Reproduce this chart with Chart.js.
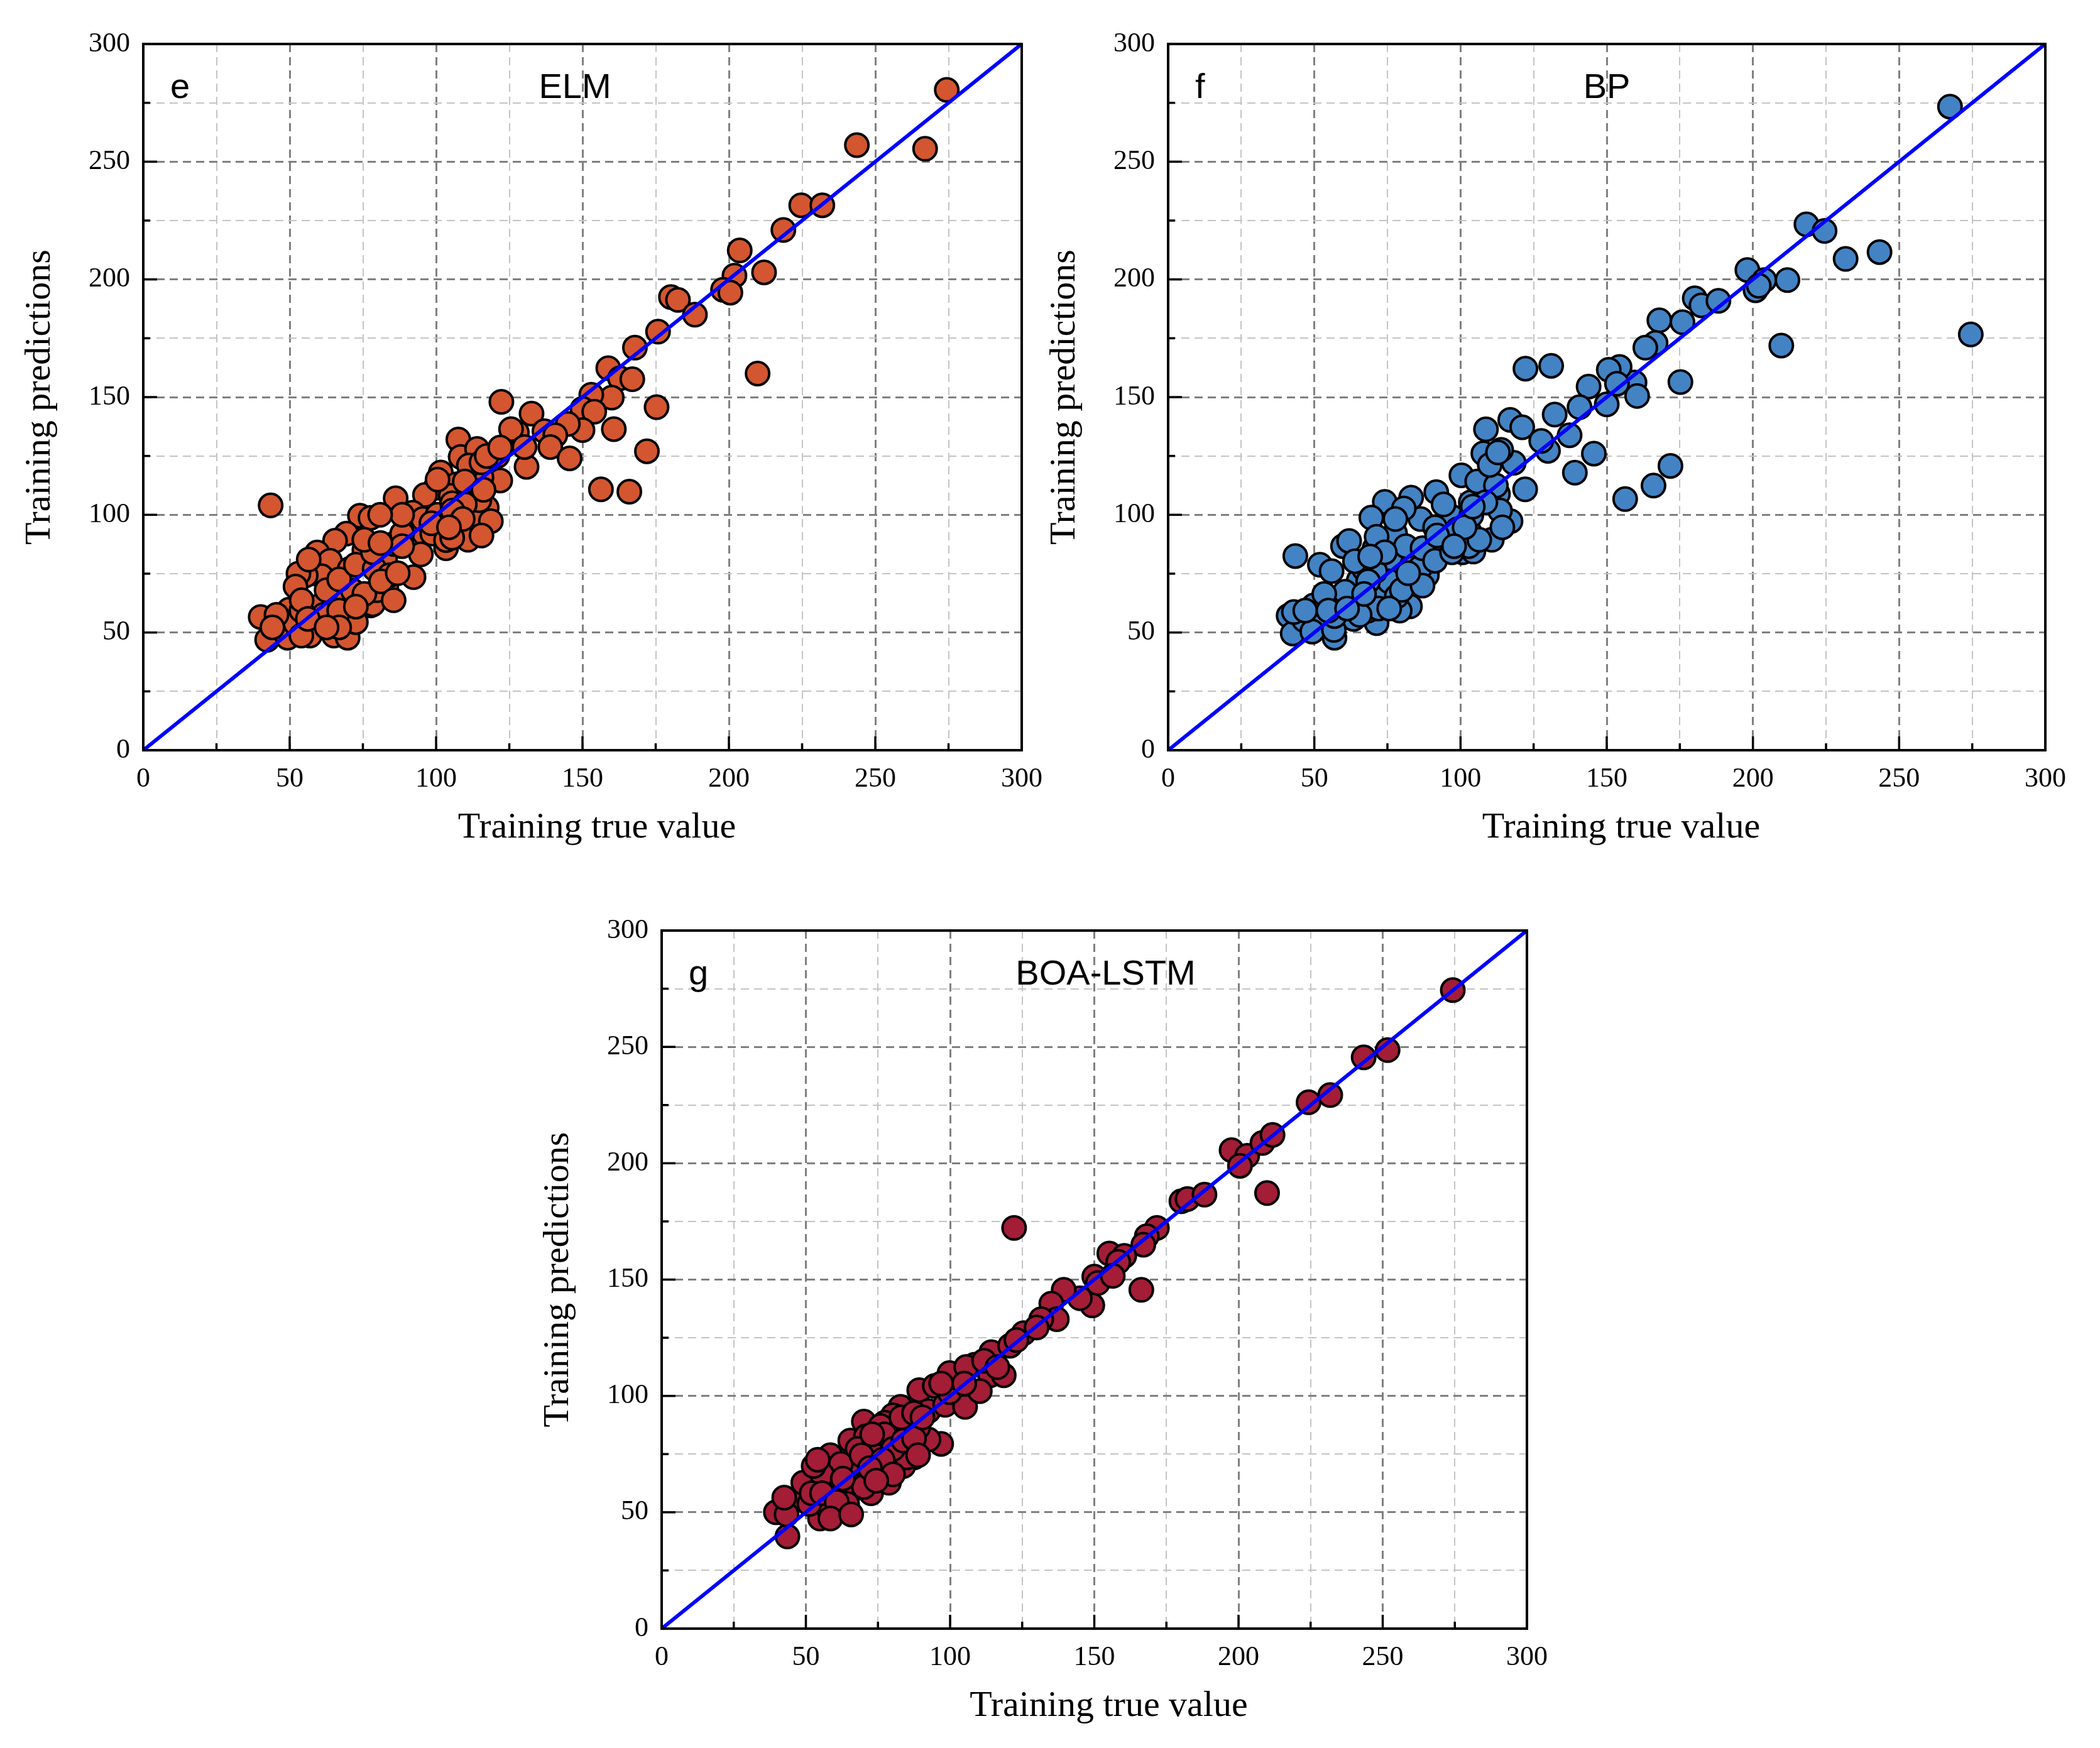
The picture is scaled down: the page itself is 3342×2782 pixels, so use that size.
<!DOCTYPE html>
<html>
<head>
<meta charset="utf-8">
<script src="https://cdn.jsdelivr.net/npm/chart.js@4.4.1/dist/chart.umd.min.js"></script>
<style>
  html, body { margin: 0; padding: 0; background: #fff; overflow: hidden; }
  body { width: 3342px; height: 2782px; position: relative; }
  canvas { position: absolute; }
</style>
</head>
<body>
<canvas id="elmCanvas" width="1700" height="1400" style="left:0px;top:0px;"></canvas>
<canvas id="bpCanvas" width="1711" height="1400" style="left:1631px;top:0px;"></canvas>
<canvas id="lstmCanvas" width="1700" height="1371" style="left:825px;top:1411px;"></canvas>
<script>
// axis values
const labelTicks = [0, 50, 100, 150, 200, 250, 300];
const fitLine = [{x: 0, y: 0}, {x: 300, y: 300}];

// ELM (panel e)
const elmTrue = [
  43.5, 107.6, 122.3, 108.4, 114, 120.9, 127.6, 132.6, 130.9, 121.9,
  117.3, 113, 110.9, 118.7, 101.6, 99.8, 107, 105, 96.2, 86.2,
  92, 95.9, 89.8, 102.3, 103.4, 94.8, 92.3, 83, 77.6, 74,
  77.6, 69.4, 65.5, 59.4, 63.8, 70.5, 75.5, 82.6, 60.9, 55.5,
  53, 65.1, 71.6, 60.5, 49.8, 40.1, 46.6, 42.3, 49.3, 56.9,
  65.1, 69.8, 72.6, 78.4, 79.8, 85.5, 88.4, 95.5, 98.7, 111.9,
  114.8, 115.5, 111.2, 100.5, 46.2, 52, 54, 62.6, 66.9, 72.6,
  79, 84, 54, 75.5, 81.2, 61.6, 66.9, 274.4, 243.7, 267,
  224.7, 231.9, 218.6, 203.7, 201.9, 198, 200.5, 212, 180.2, 182.6,
  188.4, 175.8, 167.9, 209.8, 158.8, 162.8, 167, 160, 153, 150,
  154, 175.3, 160.7, 150, 145, 125.6, 137, 140.7, 139, 145.6,
  172, 156.3, 166, 130.2, 78.4, 75.5, 56.5, 52, 54.1, 56.2,
  72.6, 86.9, 88.4, 81, 85.5, 66.9, 62.6, 45.5, 44.1, 115.5,
  100.5, 105.5, 109.8, 88.4, 117.3, 121.9, 80.9, 103.4, 98.4, 109.8,
  116.2, 105.6, 109.1, 115.5, 105.5, 104.4
];
const elmPred = [
  104, 132, 148, 124.6, 128, 125, 135, 143, 120.4, 114.6,
  103, 97.8, 89.4, 97.3, 118, 111.5, 113, 108, 108.4, 107,
  100.9, 92, 95.6, 94.7, 85.8, 83.2, 73.5, 69, 61.5, 99.6,
  98.7, 92, 89, 84, 80.5, 77, 85, 81.4, 73.9, 74.3,
  75, 66.4, 67.7, 61.5, 59.7, 56.6, 53, 46.9, 47.8, 48.7,
  48.7, 47.8, 54.4, 62, 68, 87.6, 92, 98.2, 92, 106.2,
  106.2, 116, 121, 115, 55.6, 53.8, 59.3, 68, 72.6, 78.8,
  77, 74.3, 48.7, 66.4, 71.7, 57.5, 59.3, 280.5, 257, 255.5,
  231.5, 231.5, 221, 212.3, 201.6, 195.6, 194.4, 203, 192.5, 191.3,
  185, 177.8, 171, 160, 162.3, 158, 157.6, 149.8, 151, 145,
  143.8, 145.7, 136.4, 136, 138.6, 136.4, 135.5, 133.8, 128.8, 124,
  127, 110.8, 109.8, 128.8, 84.1, 89.4, 81, 69.5, 63.7, 55.8,
  61, 75.2, 86.7, 88, 63.7, 52.2, 52.2, 57.5, 52.2, 122.3,
  100, 104.9, 104.5, 100, 125, 128.6, 100, 89.3, 96.4, 114.2,
  110.6, 101.8, 98.2, 91.2, 90.3, 94.7
];

// BP (panel f)
const bpTrue = [
  43.5, 74.1, 83.1, 69.5, 77.6, 86.3, 91.7, 100.3, 108.7, 107.8,
  117, 121.1, 118.2, 122.1, 117.1, 107.1, 106.7, 95.6, 83.1, 65.2,
  59.8, 61.9, 49.8, 41.2, 42.6, 46.5, 56.9, 71.3, 103.2, 110.7,
  100.7, 88.5, 82.7, 71.3, 63.4, 51.9, 55.9, 67, 77, 83.5,
  91.3, 97.1, 103.5, 112.8, 113.5, 91.3, 81.3, 70.6, 75.6, 58.4,
  53.4, 79.2, 68.4, 113.9, 63.9, 70.8, 43, 49.3, 56.7, 104.4,
  99, 103.7, 86.3, 78.2, 56.9, 267.4, 274.5, 218.3, 224.5, 231.7,
  243.3, 198.1, 200.9, 203.9, 202, 211.8, 209.7, 180.1, 182.4, 188.2,
  168, 175.9, 166.7, 163.2, 175.2, 171.8, 166, 156.3, 159.5, 160.4,
  154.4, 150.7, 153.5, 150, 143.8, 140.7, 145.6, 139.1, 137.3, 132.2,
  131, 122.2, 129.9, 127.6, 71.3, 87, 92, 102.8, 94.2, 80.6,
  77.7, 74.1, 69.1, 68.4, 79.9, 72, 65.5, 60.5, 53.4, 46.9,
  87, 82.1, 91.3, 97.1, 106.4, 67, 54.8, 61.2, 75.6, 105.7,
  112.1, 108.5, 101.4, 114.3, 97.8, 110, 112.8, 104.2
];
const bpPred = [
  82.5, 105.5, 107.3, 98.8, 92.2, 98.2, 109.6, 116.8, 136.3, 126.1,
  140.3, 137.2, 122.1, 110.8, 97.3, 110.6, 108.8, 88.9, 72.1, 72.1,
  86.7, 88.9, 61.5, 57.1, 49.6, 55.3, 47.8, 66.4, 92.5, 89.4,
  84.1, 74.3, 61.1, 54, 55.8, 78.8, 76.1, 77, 80.5, 78.8,
  85.8, 99.1, 105.3, 108.8, 101.8, 94.7, 86.7, 85.8, 71.7, 63.7,
  54, 59.3, 59.3, 127.6, 80.3, 76, 58.7, 50.4, 51.1, 84.4,
  93.9, 99.8, 77.7, 65.4, 57, 273.4, 176.6, 223.4, 220.6, 208.7,
  211.6, 204, 195.4, 199.7, 197.3, 199.7, 171.9, 192, 189, 190.9,
  182.6, 181.8, 173, 171, 156.4, 120.8, 112.4, 106.7, 156.2, 150.5,
  162.8, 161.6, 155.7, 146.9, 154.5, 145.7, 126, 117.9, 133.8, 142.6,
  163.3, 162.1, 127.2, 131.4, 90.7, 85.8, 91.2, 86.7, 104.4, 102.7,
  98.2, 84.1, 82.3, 71.7, 68.1, 60.2, 57.5, 67.3, 66.4, 59.3,
  69.9, 75.2, 80.5, 84.1, 89.4, 66.4, 59.3, 60.2, 60.2, 114.2,
  112.4, 105.3, 94.7, 94.7, 86.7, 121.2, 126.5, 103.5
];

// BOA-LSTM (panel g)
const lstmTrue = [
  43.6, 39.6, 45.4, 49.1, 54.9, 58.5, 59.9, 65, 65.4, 70.1,
  75.9, 76.2, 72.6, 68.6, 66.4, 70.8, 81.7, 82.8, 89.3, 94.7,
  92.5, 96.9, 87.5, 81.7, 98.3, 102.3, 105.2, 108.5, 113.9, 114.3,
  118.6, 120.8, 125.5, 110.3, 62.8, 57.7, 51.2, 64.3, 73, 80.2,
  86, 90.4, 83.8, 78.8, 67.9, 62.1, 55.6, 52, 70.1, 99.8,
  105.6, 92.5, 77.4, 85, 84.4, 89, 274.3, 243.4, 251.7, 224.3,
  231.8, 197.6, 203, 200.5, 208.3, 211.8, 209.9, 180.2, 182.3, 188.2,
  171.7, 168.2, 167, 122.2, 155.2, 160.4, 158.3, 166.3, 150, 151.2,
  156.4, 149.3, 145, 139.4, 135.1, 137, 131.6, 130, 75.9, 77.3,
  73, 52.7, 54.1, 55.6, 60.7, 62.8, 69.3, 80.2, 83.8, 87.5,
  88.9, 76.6, 72.2, 80.2, 74.4, 83.1, 87.5, 90.4, 99.8, 96.9,
  104.9, 43.3, 42.5, 58.5, 65.7, 111.8, 116.4, 123
];
const lstmPred = [
  39.6, 50, 55, 62.7, 47.3, 74.5, 63.6, 58.2, 80.8, 89,
  77.2, 66.8, 58.2, 64.5, 70.8, 82.6, 85.3, 95.3, 102.5, 104.3,
  93.5, 79.4, 73.6, 72.6, 96.2, 103.9, 95.3, 113.4, 108.9, 118.8,
  108.9, 121.6, 127, 102.1, 58.2, 51.8, 53.6, 53.6, 79, 91.7,
  88, 80.8, 69.9, 62.7, 77.2, 70.8, 66.3, 58.2, 60.9, 109.8,
  112.5, 81.3, 88.5, 73.6, 90.1, 86.6, 274.4, 245.5, 248.6, 226.2,
  229.3, 205.6, 203.2, 198.9, 208.7, 212.2, 187.2, 183.7, 184.6, 186.5,
  172.2, 168.6, 165, 172.2, 161.2, 160.2, 157.6, 145.6, 151.3, 148.5,
  151.6, 138.9, 142, 145.6, 139.7, 133, 133, 129.4, 87.1, 83.5,
  83.5, 69.9, 72.6, 58.2, 54.5, 64.5, 74.5, 77.2, 80.8, 81.7,
  74.5, 72.6, 69, 66.3, 63.6, 90.8, 92.6, 90.8, 101.6, 105.3,
  105.3, 49.1, 56.3, 47.3, 49.1, 115.1, 112.4, 124
];

const SERIF = "'Liberation Serif', 'Times New Roman', serif";
const SANS = "'Liberation Sans', Arial, sans-serif";

const toPoints = (xs, ys) => xs.map((x, i) => ({x: x, y: ys[i]}));
const isMajor = (v) => labelTicks.includes(v);

// frame, inward ticks, x title and panel captions
const panelDecor = {
  id: "panelDecor",
  afterDraw(chart, args, opts) {
    const ctx = chart.ctx;
    const area = chart.chartArea;
    const xs = chart.scales.x;
    const ys = chart.scales.y;
    ctx.save();
    ctx.strokeStyle = "#000";
    ctx.lineWidth = 3.5;
    xs.ticks.forEach(t => {
      const px = xs.getPixelForValue(t.value);
      const len = isMajor(t.value) ? 22 : 11;
      ctx.beginPath();
      ctx.moveTo(px, area.bottom);
      ctx.lineTo(px, area.bottom - len);
      ctx.stroke();
    });
    ys.ticks.forEach(t => {
      const py = ys.getPixelForValue(t.value);
      const len = isMajor(t.value) ? 22 : 11;
      ctx.beginPath();
      ctx.moveTo(area.left, py);
      ctx.lineTo(area.left + len, py);
      ctx.stroke();
    });
    ctx.lineWidth = 4;
    ctx.strokeRect(area.left, area.top, area.right - area.left, area.bottom - area.top);

    ctx.fillStyle = "#000";
    ctx.textBaseline = "alphabetic";
    ctx.textAlign = "center";
    ctx.font = "58px " + SERIF;
    ctx.fillText("Training true value", (area.left + area.right) / 2 + 23, area.bottom + 139);

    ctx.font = "56px " + SANS;
    ctx.fillText(opts.name, (area.left + area.right) / 2 + opts.nameShift, area.top + 86);
    ctx.textAlign = "left";
    ctx.fillText(opts.letter, area.left + 43, area.top + 86);
    ctx.restore();
  }
};

const makePanel = (canvasId, xs, ys, color, letter, name, geo) => {
  const canvas = document.getElementById(canvasId);
  const tickFont = {family: SERIF, size: 44};
  const titleFont = {family: SERIF, size: 58};
  const gridColor = (c) => (c.tick && isMajor(c.tick.value)) ? "#808080" : "#c4c4c4";
  const gridWidth = (c) => (c.tick && isMajor(c.tick.value)) ? 3 : 2;
  const label = (v) => isMajor(v) ? String(v) : "";

  return new Chart(canvas, {
    type: "scatter",
    data: {
      datasets: [
        {
          type: "line",
          data: fitLine,
          borderColor: "#0000ff",
          borderWidth: 6,
          pointRadius: 0,
          fill: false,
          tension: 0,
          order: 0,
        },
        {
          data: toPoints(xs, ys),
          backgroundColor: color,
          borderColor: "#000",
          borderWidth: 4,
          pointRadius: 18.5,
          pointHoverRadius: 18.5,
          order: 1,
        },
      ],
    },
    options: {
      responsive: false,
      animation: false,
      devicePixelRatio: 1,
      events: [],
      layout: {
        padding: {left: 0, top: 70, right: geo.right, bottom: 0},
      },
      plugins: {
        legend: {display: false},
        tooltip: {enabled: false},
        panelDecor: {letter: letter, name: name, nameShift: geo.nameShift},
      },
      scales: {
        x: {
          type: "linear",
          min: 0,
          max: 300,
          afterFit: (s) => { s.height = geo.xAxisH; },
          ticks: {stepSize: 25, autoSkip: false, maxRotation: 0, padding: 20, color: "#000", font: tickFont, callback: label},
          grid: {drawTicks: false, color: gridColor, lineWidth: gridWidth},
          border: {display: false, dash: [13, 8]},
          title: {display: false},
        },
        y: {
          type: "linear",
          min: 0,
          max: 300,
          afterFit: (s) => { s.width = 228; },
          ticks: {stepSize: 25, autoSkip: false, padding: 21, color: "#000", font: tickFont, callback: label},
          grid: {drawTicks: false, color: gridColor, lineWidth: gridWidth},
          border: {display: false, dash: [13, 8]},
          title: {display: true, text: "Training predictions", color: "#000", font: titleFont, padding: {top: 29, bottom: 0}},
        },
      },
    },
    plugins: [panelDecor],
  });
};

makePanel("elmCanvas", elmTrue, elmPred, "#d35630", "e", "ELM",
  {right: 74, xAxisH: 206, nameShift: -12});
makePanel("bpCanvas", bpTrue, bpPred, "#4383c4", "f", "BP",
  {right: 87, xAxisH: 206, nameShift: 0});
makePanel("lstmCanvas", lstmTrue, lstmPred, "#a31d37", "g", "BOA-LSTM",
  {right: 95, xAxisH: 190, nameShift: 18});
</script>
</body>
</html>
